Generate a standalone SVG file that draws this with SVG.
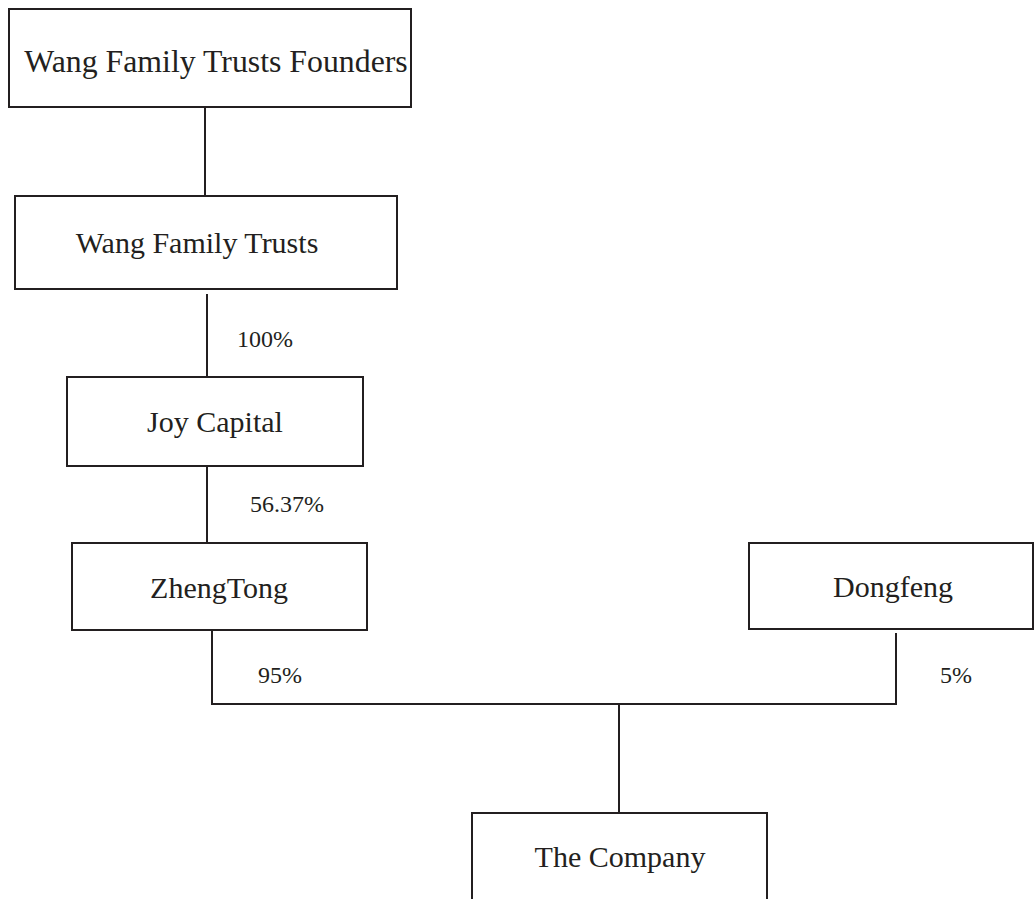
<svg xmlns="http://www.w3.org/2000/svg" width="1034" height="899" viewBox="0 0 1034 899">
<style>
.box{fill:#fff;stroke:#231f20;stroke-width:2}
.t{font-family:"Liberation Serif","Times New Roman",serif;font-size:30px;fill:#231f20;text-anchor:middle}
.p{font-family:"Liberation Serif","Times New Roman",serif;font-size:24px;fill:#231f20}
.c{fill:none;stroke:#231f20;stroke-width:2}
</style>
<rect width="1034" height="899" fill="#fff"/>
<g id="connectors">
<line class="c" x1="205" y1="107" x2="205" y2="196"/>
<line class="c" x1="207" y1="294" x2="207" y2="377"/>
<line class="c" x1="207" y1="466" x2="207" y2="543"/>
<polyline class="c" points="212,630 212,704 896,704 896,633"/>
<line class="c" x1="619" y1="704" x2="619" y2="813"/>
<text class="p" x="237" y="347">100%</text>
<text class="p" x="250" y="512">56.37%</text>
<text class="p" x="258" y="683">95%</text>
<text class="p" x="940" y="683">5%</text>
</g>
<g id="founders">
<rect class="box" x="9" y="9" width="402" height="98"/>
<text class="t" x="216" y="72" style="font-size:31.8px">Wang Family Trusts Founders</text>
</g>
<g id="trusts">
<rect class="box" x="15" y="196" width="382" height="93"/>
<text class="t" x="197" y="253">Wang Family Trusts</text>
</g>
<g id="joy">
<rect class="box" x="67" y="377" width="296" height="89"/>
<text class="t" x="215" y="432">Joy Capital</text>
</g>
<g id="zhengtong">
<rect class="box" x="72" y="543" width="295" height="87"/>
<text class="t" x="219" y="598">ZhengTong</text>
</g>
<g id="dongfeng">
<rect class="box" x="749" y="543" width="284" height="86"/>
<text class="t" x="893" y="597">Dongfeng</text>
</g>
<g id="company">
<rect class="box" x="472" y="813" width="295" height="100"/>
<text class="t" x="620" y="867">The Company</text>
</g>
</svg>
